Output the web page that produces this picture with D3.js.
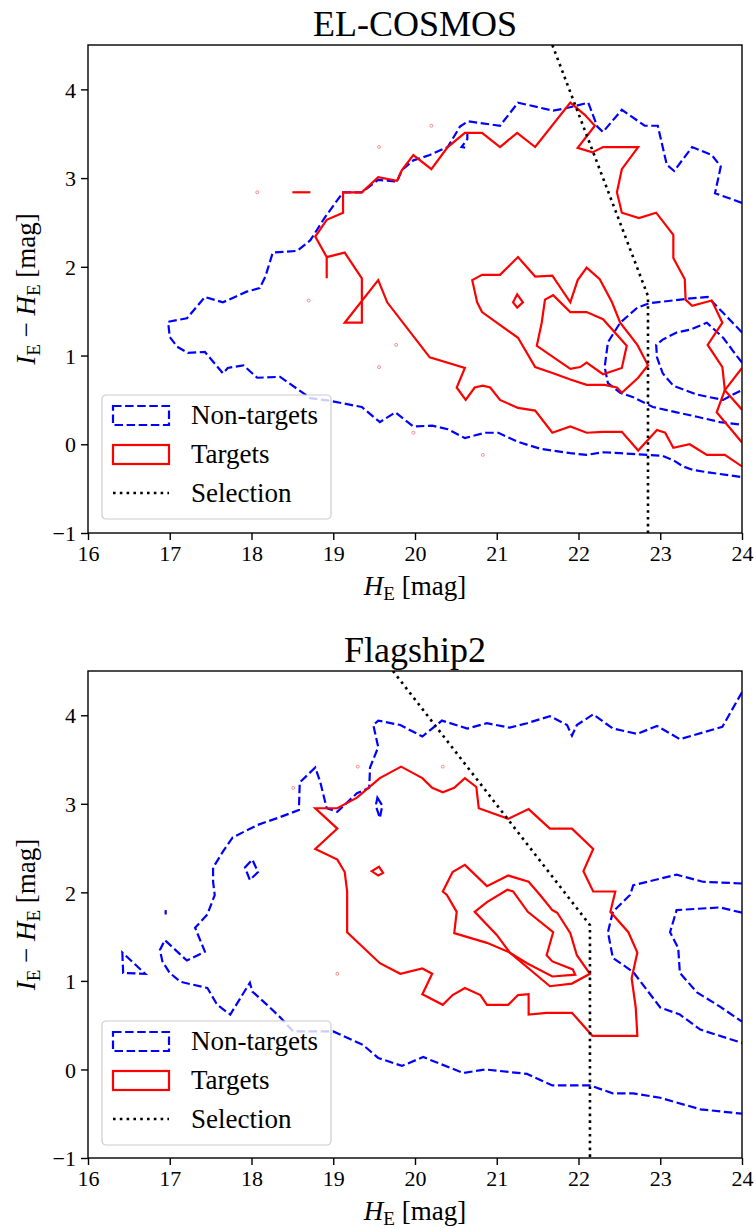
<!DOCTYPE html>
<html lang="en">
<head>
<meta charset="UTF-8">
<title>Colour-magnitude contours</title>
<script src="https://d3js.org/d3.v7.min.js"></script>
<style>
    body { margin: 0; background: #fff; }
    svg { display: block; }
    text { font-family: "Liberation Serif", "DejaVu Serif", serif; fill: #000; }
    .tick line { stroke: #000; stroke-width: 1.4; }
    .non { fill: none; stroke: #0000ff; stroke-width: 2.2; stroke-dasharray: 8.5 3.6; }
    .tgt { fill: none; stroke: #ff0000; stroke-width: 2.2; stroke-linejoin: miter; }
    .sel { fill: none; stroke: #000; stroke-width: 2.6; stroke-dasharray: 2.6 4.2; }
</style>
</head>
<body>
<svg width="756" height="1229"></svg>
<script>
// axis ticks
const xTicks = [16, 17, 18, 19, 20, 21, 22, 23, 24];
const yTicks = [-1, 0, 1, 2, 3, 4];

// ---------- EL-COSMOS contours, [H_E, I_E - H_E] ----------
const cosmosNonOuter = [[24.0,2.72],[23.67,2.83],[23.74,3.13],[23.63,3.26],[23.39,3.35],[23.17,3.08],[23.08,3.15],
    [22.97,3.59],[22.81,3.59],[22.53,3.77],[22.30,3.52],[22.23,3.58],[22.12,3.85],[21.86,3.79],[21.69,3.76],
    [21.26,3.85],[21.04,3.59],[20.65,3.64],[20.55,3.58],[20.40,3.35],[20.18,3.26],[19.98,3.20],[19.84,3.09],
    [19.78,2.96],[19.55,2.98],[19.35,2.84],[19.12,2.84],[18.90,2.56],[18.72,2.30],[18.56,2.18],[18.26,2.16],
    [18.17,1.89],[18.10,1.76],[17.94,1.72],[17.65,1.60],[17.43,1.66],[17.21,1.42],[16.98,1.38],[17.00,1.21],
    [17.09,1.10],[17.22,1.03],[17.43,1.04],[17.65,0.80],[17.71,0.86],[17.90,0.89],[18.07,0.75],[18.35,0.76],
    [18.72,0.52],[18.96,0.49],[19.35,0.42],[19.57,0.25],[19.76,0.36],[19.98,0.20],[20.21,0.21],[20.40,0.17],
    [20.61,0.07],[20.86,0.13],[21.02,0.13],[21.25,0.03],[21.53,-0.05],[21.90,-0.10],[22.10,-0.12],[22.30,-0.09],
    [22.51,-0.10],[23.03,-0.13],[23.16,-0.18],[23.28,-0.25],[23.40,-0.29],[23.61,-0.32],[24.0,-0.37]];
const cosmosNonHook = [[20.64,3.52],[20.64,3.44],[20.57,3.35],[20.64,3.34]];
const cosmosNonMid = [[24.0,1.26],[23.76,1.49],[23.58,1.66],[23.33,1.64],[22.87,1.59],[22.72,1.54],[22.51,1.37],
    [22.36,1.15],[22.32,0.87],[22.36,0.69],[22.51,0.58],[22.67,0.53],[22.91,0.42],[23.20,0.36],[23.45,0.31],
    [23.73,0.25],[24.0,0.22]];
const cosmosNonInner = [[24.0,0.92],[23.94,0.99],[23.77,1.20],[23.57,1.37],[23.36,1.29],[23.20,1.26],[23.03,1.18],
    [22.95,1.12],[22.96,0.98],[23.03,0.80],[23.16,0.66],[23.45,0.56],[23.77,0.50],[23.89,0.56],[24.0,0.61]];

const cosmosTgtOuterA = [[24.0,0.02],[23.69,0.36],[23.79,0.61],[23.76,0.87],[23.58,1.12],[23.76,1.37],[23.63,1.62],
    [23.39,1.56],[23.31,1.63],[23.30,1.86],[23.16,2.10],[23.16,2.36],[22.95,2.61],[22.74,2.55],[22.53,2.61],
    [22.47,2.84],[22.53,3.10],[22.73,3.35],[22.30,3.35],[22.17,3.29],[21.99,3.34],[22.20,3.59],[22.08,3.71],
    [21.90,3.85],[21.47,3.35],[21.25,3.51],[21.04,3.35],[20.82,3.51],[20.61,3.51],[20.40,3.35],[20.20,3.10],
    [19.98,3.26],[19.84,3.09],[19.78,2.97],[19.55,3.01],[19.35,2.84],[19.12,2.84],[19.12,2.61],[18.92,2.53],
    [18.78,2.34],[18.92,2.11],[18.92,1.87]];
const cosmosTgtOuterB = [[18.92,2.11],[19.14,2.16],[19.35,1.87],[19.35,1.37],[19.14,1.37],[19.55,1.85],[19.66,1.60],
    [20.18,0.98],[20.61,0.86],[20.51,0.64],[20.62,0.50],[20.73,0.64],[20.83,0.66],[20.92,0.64],[21.04,0.50],
    [21.26,0.41],[21.47,0.38],[21.68,0.13],[21.90,0.20],[22.10,0.13],[22.30,0.14],[22.53,0.14],[22.73,-0.07],
    [22.96,0.16],[23.06,0.13],[23.16,-0.04],[23.36,0.00],[23.57,-0.12],[23.79,-0.12],[24.0,-0.25]];
const cosmosTgtV = [[24.0,0.86],[23.79,0.61],[24.0,0.39]];
const cosmosTgtDash = [[18.50,2.84],[18.72,2.84]];
const cosmosTgtMid = [[20.70,1.85],[20.82,1.91],[21.04,1.91],[21.26,2.11],[21.47,1.89],[21.68,1.90],[21.90,1.60],
    [21.99,1.85],[22.10,1.99],[22.26,1.86],[22.41,1.60],[22.51,1.37],[22.72,1.12],[22.85,0.89],[22.73,0.75],
    [22.53,0.58],[22.47,0.64],[22.32,0.67],[22.10,0.67],[21.90,0.73],[21.69,0.80],[21.47,0.87],[21.26,1.20],
    [21.00,1.37],[20.82,1.49],[20.76,1.60]];
const cosmosTgtDiamond = [[21.20,1.60],[21.25,1.69],[21.32,1.60],[21.25,1.54]];
const cosmosTgtInner = [[21.59,1.63],[21.69,1.68],[21.90,1.49],[22.10,1.49],[22.30,1.41],[22.59,1.11],[22.53,0.86],
    [22.30,0.79],[22.10,0.92],[22.02,0.87],[21.90,0.85],[21.49,1.11],[21.55,1.37]];
const cosmosTgtDots = [[18.07,2.84],[19.56,3.35],[20.20,3.59],[18.70,1.62],[19.77,1.12],[19.56,0.87],[19.98,0.13],[20.83,-0.12]];
const cosmosSelection = [[21.68,4.5],[22.85,1.67],[22.85,-1]];

// ---------- Flagship2 contours ----------
const flagNonOuter = [[24.0,4.26],[23.76,3.87],[23.24,3.73],[22.96,3.88],[22.72,3.79],[22.42,3.85],[22.18,4.01],
    [21.98,3.89],[21.92,3.77],[21.86,3.89],[21.65,3.99],[21.37,3.91],[21.16,3.86],[20.88,3.91],[20.64,3.85],
    [20.33,3.94],[20.09,3.76],[19.82,3.89],[19.55,3.94],[19.49,3.89],[19.55,3.64],[19.45,3.41],[19.44,3.18],
    [19.29,3.12],[19.05,2.91],[18.92,2.95],[18.84,3.25],[18.78,3.41],[18.59,3.24],[18.58,2.93],[18.35,2.85],
    [18.07,2.76],[17.77,2.62],[17.65,2.46],[17.53,2.28],[17.53,2.12],[17.55,1.97],[17.46,1.75],[17.31,1.60],
    [17.43,1.33],[17.21,1.23],[16.94,1.46],[16.88,1.35],[16.91,1.22],[17.00,1.09],[17.13,0.99],[17.46,0.92],
    [17.58,0.73],[17.74,0.62],[17.98,0.98],[18.01,0.88],[18.19,0.73],[18.35,0.59],[18.51,0.43],[19.00,0.43],
    [19.36,0.28],[19.55,0.13],[19.84,0.04],[20.10,0.14],[20.59,-0.04],[20.86,0.00],[21.37,-0.05],[21.68,-0.18],
    [22.14,-0.18],[22.42,-0.27],[22.67,-0.27],[23.00,-0.32],[23.49,-0.45],[24.0,-0.50]];
const flagNonLoopA = [[19.54,3.07],[19.60,2.98],[19.57,2.84],[19.52,2.98]];
const flagNonLoopB = [[17.92,2.28],[18.01,2.37],[18.08,2.23],[17.98,2.14]];
const flagNonLoopC = [[16.42,1.32],[16.43,1.09],[16.70,1.08]];
const flagNonSpeck = [[16.95,1.80],[16.95,1.75]];
const flagNonMid = [[24.0,2.10],[23.52,2.12],[23.20,2.20],[22.67,2.08],[22.63,1.97],[22.42,1.78],[22.36,1.55],
    [22.42,1.26],[22.67,1.10],[23.00,0.70],[23.24,0.62],[23.49,0.45],[24.0,0.30]];
const flagNonInner = [[24.0,1.77],[23.73,1.83],[23.20,1.80],[23.12,1.55],[23.22,1.37],[23.24,1.09],[23.45,0.87],
    [23.73,0.71],[24.0,0.54]];

const flagTgtOuter = [[19.83,3.42],[19.57,3.29],[19.29,3.07],[19.05,2.95],[18.78,2.95],[19.05,2.72],[18.78,2.49],
    [19.05,2.37],[19.14,2.23],[19.17,2.01],[19.17,1.55],[19.57,1.20],[19.82,1.08],[20.09,1.14],[20.21,1.08],
    [20.09,0.85],[20.34,0.73],[20.46,0.84],[20.61,0.92],[20.80,0.84],[20.88,0.73],[21.14,0.73],[21.26,0.84],
    [21.39,0.85],[21.39,0.62],[21.61,0.64],[21.92,0.64],[22.17,0.38],[22.72,0.38],[22.70,0.70],[22.65,1.03],
    [22.72,1.32],[22.61,1.55],[22.39,1.78],[22.45,2.01],[22.18,2.01],[22.06,2.24],[22.18,2.49],[21.92,2.72],
    [21.65,2.72],[21.39,2.94],[21.14,2.83],[20.78,2.95],[20.75,3.19],[20.61,3.29],[20.48,3.18],[20.34,3.13],
    [20.21,3.18],[20.09,3.29]];
const flagTgtMid = [[20.34,2.01],[20.46,2.23],[20.61,2.31],[20.88,2.07],[21.14,2.19],[21.39,2.12],[21.53,1.97],
    [21.68,1.80],[21.74,1.77],[21.90,1.54],[21.98,1.29],[22.14,1.08],[21.92,0.97],[21.65,0.94],[21.16,1.32],
    [20.88,1.43],[20.48,1.54],[20.51,1.78],[20.39,1.97]];
const flagTgtInner = [[20.73,1.78],[20.88,1.89],[21.13,2.03],[21.20,2.01],[21.38,1.78],[21.69,1.55],[21.61,1.29],
    [21.68,1.22],[21.93,1.13],[21.96,1.07],[21.68,1.05],[21.37,1.20],[21.16,1.32],[21.00,1.52]];
const flagTgtDiamond = [[19.47,2.24],[19.56,2.29],[19.61,2.22],[19.55,2.19]];
const flagTgtDots = [[18.51,3.18],[19.30,3.42],[20.34,3.42],[19.05,1.08]];
const flagSelection = [[19.73,4.5],[22.14,1.63],[22.14,-1]];

const legendLabels = ["Non-targets", "Targets", "Selection"];

// [points, closed]
const panels = [
    {
        title: "EL-COSMOS", top: 45, bottom: 533,
        non: [[cosmosNonOuter, false], [cosmosNonHook, false], [cosmosNonMid, false], [cosmosNonInner, false]],
        tgt: [[cosmosTgtOuterA, false], [cosmosTgtOuterB, false], [cosmosTgtV, false], [cosmosTgtDash, false],
              [cosmosTgtMid, true], [cosmosTgtDiamond, true], [cosmosTgtInner, true]],
        dots: cosmosTgtDots, sel: cosmosSelection
    },
    {
        title: "Flagship2", top: 671, bottom: 1158,
        non: [[flagNonOuter, false], [flagNonLoopA, true], [flagNonLoopB, true], [flagNonLoopC, true],
              [flagNonSpeck, false], [flagNonMid, false], [flagNonInner, false]],
        tgt: [[flagTgtOuter, true], [flagTgtMid, true], [flagTgtInner, true], [flagTgtDiamond, true]],
        dots: flagTgtDots, sel: flagSelection
    }
];

const serif = "Liberation Serif";
const svg = d3.select("svg");
const x = d3.scaleLinear().domain([16, 24]).range([88, 742]);

panels.forEach((p, i) => {
    const y = d3.scaleLinear().domain([-1, 4.5]).range([p.bottom, p.top]);
    const g = svg.append("g");

    g.append("clipPath").attr("id", "clip" + i)
        .append("rect").attr("x", 88).attr("y", p.top).attr("width", 654).attr("height", p.bottom - p.top);
    const plot = g.append("g").attr("clip-path", `url(#clip${i})`);

    const line = d3.line().x(d => x(d[0])).y(d => y(d[1]));
    const lineClosed = d3.line().x(d => x(d[0])).y(d => y(d[1])).curve(d3.curveLinearClosed);

    plot.selectAll(".non").data(p.non).join("path")
        .attr("class", "non")
        .attr("d", d => (d[1] ? lineClosed : line)(d[0]));

    plot.selectAll(".tgt").data(p.tgt).join("path")
        .attr("class", "tgt")
        .attr("d", d => (d[1] ? lineClosed : line)(d[0]));

    plot.selectAll(".dot").data(p.dots).join("circle")
        .attr("class", "dot")
        .attr("cx", d => x(d[0])).attr("cy", d => y(d[1])).attr("r", 1.5)
        .attr("fill", "none").attr("stroke", "#ff0000").attr("stroke-width", 0.6).attr("opacity", 0.7);

    plot.append("path").attr("class", "sel").attr("d", line(p.sel));

    // axes
    const xAxis = g.append("g").attr("transform", `translate(0,${p.bottom})`)
        .call(d3.axisBottom(x).tickValues(xTicks).tickSize(7).tickPadding(4).tickFormat(d3.format("d")))
        .attr("font-family", serif).attr("font-size", 22);
    xAxis.select(".domain").remove();
    xAxis.selectAll("text").attr("dy", "0.78em");

    const yAxis = g.append("g").attr("transform", "translate(88,0)")
        .call(d3.axisLeft(y).tickValues(yTicks).tickSize(7).tickPadding(5).tickFormat(d3.format("d")))
        .attr("font-family", serif).attr("font-size", 22);
    yAxis.select(".domain").remove();
    yAxis.selectAll("text").attr("dy", "0.35em");

    g.append("rect").attr("x", 88).attr("y", p.top).attr("width", 654).attr("height", p.bottom - p.top)
        .attr("fill", "none").attr("stroke", "#000").attr("stroke-width", 1.4);

    // title
    g.append("text").attr("x", 415).attr("y", p.top - 9)
        .attr("text-anchor", "middle").attr("font-size", 36).text(p.title);

    // x label
    const xl = g.append("text").attr("x", 415).attr("y", p.bottom + 62)
        .attr("text-anchor", "middle").attr("font-size", 27);
    xl.append("tspan").attr("font-style", "italic").text("H");
    xl.append("tspan").attr("font-size", 19).attr("dy", 5).text("E");
    xl.append("tspan").attr("dy", -5).text(" [mag]");

    // y label
    const yl = g.append("text")
        .attr("transform", `translate(35,${(p.top + p.bottom) / 2}) rotate(-90)`)
        .attr("text-anchor", "middle").attr("font-size", 27);
    yl.append("tspan").attr("font-style", "italic").text("I");
    yl.append("tspan").attr("font-size", 19).attr("dy", 5).text("E");
    yl.append("tspan").attr("dy", -5).text(" \u2212 ");
    yl.append("tspan").attr("font-style", "italic").text("H");
    yl.append("tspan").attr("font-size", 19).attr("dy", 5).text("E");
    yl.append("tspan").attr("dy", -5).text(" [mag]");

    // legend
    const lg = g.append("g").attr("transform", `translate(102,${p.top + 350})`);
    lg.append("rect").attr("width", 229).attr("height", 124).attr("rx", 4)
        .attr("fill", "#fff").attr("fill-opacity", 0.8).attr("stroke", "#cccccc").attr("stroke-width", 1.2);
    lg.append("rect").attr("class", "non").attr("x", 11).attr("y", 11).attr("width", 56).attr("height", 19)
        .attr("stroke-width", 1.6).attr("stroke-dasharray", "6.5 2.8");
    lg.append("rect").attr("class", "tgt").attr("x", 11).attr("y", 50).attr("width", 56).attr("height", 19)
        .attr("stroke-width", 1.6);
    lg.append("line").attr("class", "sel").attr("x1", 11).attr("x2", 67).attr("y1", 98).attr("y2", 98)
        .attr("stroke-width", 2.2).attr("stroke-dasharray", "2.2 3.6");
    lg.selectAll(".lab").data(legendLabels).join("text")
        .attr("class", "lab").attr("x", 89).attr("y", (d, k) => 29 + k * 39)
        .attr("font-family", serif).attr("font-size", 27).text(d => d);
});
</script>
</body>
</html>
